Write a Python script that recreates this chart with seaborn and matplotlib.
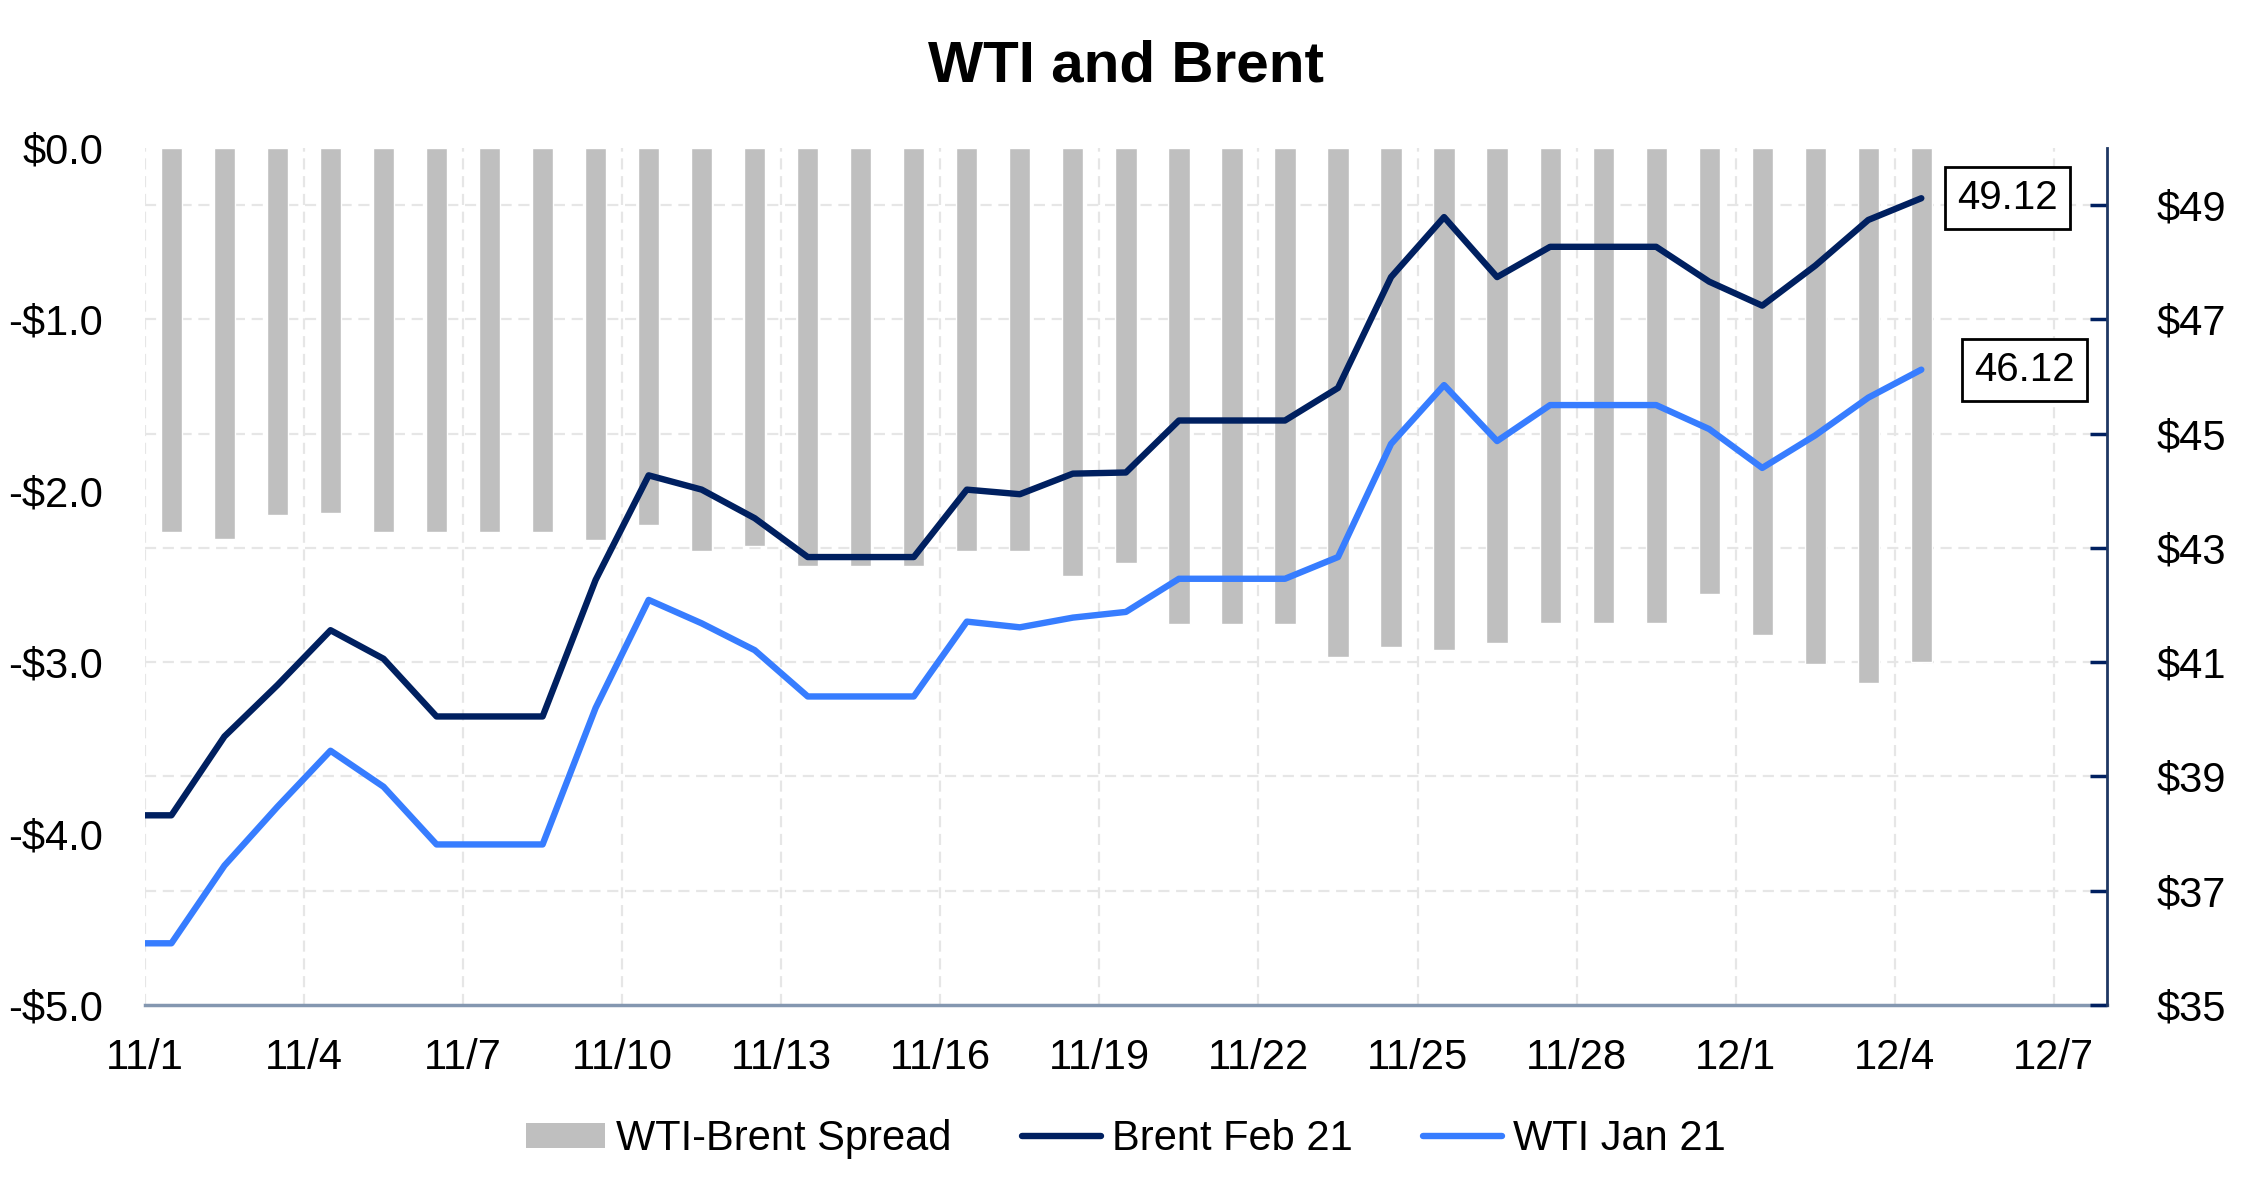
import pandas as pd
import numpy as np
import matplotlib
matplotlib.use("Agg")
import matplotlib.pyplot as plt
import matplotlib.dates as mdates
from matplotlib.patches import Patch
from matplotlib.lines import Line2D
import seaborn as sns

# --- data (weekends carried forward) ---
dates = pd.date_range("2020-10-31", "2020-12-04", freq="D")

brent_feb21 = [38.32, 38.32, 39.70, 40.60, 41.56, 41.06, 40.05, 40.05, 40.05,
               42.44, 44.27, 44.02, 43.52, 42.84, 42.84, 42.84, 44.02, 43.94,
               44.30, 44.32, 45.23, 45.23, 45.23, 45.80, 47.74, 48.79, 47.74,
               48.27, 48.27, 48.27, 47.66, 47.24, 47.94, 48.74, 49.12]

wti_jan21 = [36.08, 36.08, 37.44, 38.47, 39.45, 38.82, 37.81, 37.81, 37.81,
             40.20, 42.09, 41.68, 41.21, 40.40, 40.40, 40.40, 41.71, 41.61,
             41.78, 41.88, 42.46, 42.46, 42.46, 42.84, 44.82, 45.85, 44.87,
             45.50, 45.50, 45.50, 45.08, 44.40, 44.97, 45.63, 46.12]

spread = [-2.24, -2.24, -2.28, -2.14, -2.13, -2.24, -2.24, -2.24, -2.24,
          -2.29, -2.20, -2.35, -2.32, -2.44, -2.44, -2.44, -2.35, -2.35,
          -2.50, -2.42, -2.78, -2.78, -2.78, -2.97, -2.91, -2.93, -2.89,
          -2.77, -2.77, -2.77, -2.60, -2.84, -3.01, -3.12, -3.00]

series_labels = ["WTI-Brent Spread", "Brent Feb 21", "WTI Jan 21"]
left_ticks = [0.0, -1.0, -2.0, -3.0, -4.0, -5.0]
right_ticks = [35, 37, 39, 41, 43, 45, 47, 49]
x_ticks = pd.date_range("2020-11-01", "2020-12-07", freq="3D")

BAR_C = "#bfbfbf"
BRENT_C = "#002060"
WTI_C = "#377dff"
GRID_C = "#e6e6e6"

sns.set_style("white")
plt.rcParams["font.family"] = ["Liberation Sans", "DejaVu Sans"]
plt.rcParams["text.color"] = "black"

df = pd.DataFrame({"date": dates, "brent": brent_feb21, "wti": wti_jan21, "spread": spread})
# points sit in the middle of each day, like the excel date axis
df["xpos"] = df["date"] + pd.Timedelta(hours=12)

fig = plt.figure(figsize=(22.5, 12), dpi=100)
ax = fig.add_axes([0.0644, 0.1625, 0.872, 0.7142])
ax2 = ax.twinx()

# spread bars on the left axis
ax.bar(df["xpos"], df["spread"], width=0.4, color=BAR_C, zorder=2)
ax.set_ylim(-5, 0)
ax.set_xlim(pd.Timestamp("2020-11-01"), pd.Timestamp("2020-12-08"))

# prices on the right axis
sns.lineplot(data=df, x="xpos", y="brent", ax=ax2, color=BRENT_C, linewidth=4.6,
             estimator=None, sort=False, legend=False)
sns.lineplot(data=df, x="xpos", y="wti", ax=ax2, color=WTI_C, linewidth=4.6,
             estimator=None, sort=False, legend=False)
ax2.set_ylim(35, 50)
ax2.set_xlim(pd.Timestamp("2020-11-01"), pd.Timestamp("2020-12-08"))

# horizontal grid follows the right axis ticks, drawn on the bar axis so bars cover it
lo, hi = ax2.get_ylim()
grid_y = [(t - lo) / (hi - lo) * 5 - 5 for t in right_ticks[1:]]
for gy in grid_y:
    ax.axhline(gy, color=GRID_C, lw=1.6, ls=(0, (5, 3)), zorder=0)
for xt in x_ticks:
    ax.axvline(xt, color=GRID_C, lw=1.6, ls=(0, (5, 3)), zorder=0)

# left axis
ax.set_yticks(left_ticks)
ax.set_yticklabels(["$0.0" if v == 0 else f"-${abs(v):.1f}" for v in left_ticks])
ax.tick_params(axis="y", length=0, pad=30, labelsize=30, labelcolor="black")

# bottom axis
ax.set_xticks(x_ticks)
ax.xaxis.set_major_formatter(mdates.DateFormatter("%-m/%-d"))
ax.tick_params(axis="x", direction="out", length=9, width=2, color="#8497b0",
               pad=15, labelsize=30, labelcolor="black")
ax.set_xlabel("")
ax.set_ylabel("")

# right axis
ax2.set_yticks(right_ticks)
ax2.set_yticklabels([f"${t}" for t in right_ticks])
ax2.tick_params(axis="y", direction="in", length=12, width=2.5, color=BRENT_C,
                pad=36, labelsize=30, labelcolor="black")
ax2.set_xlabel("")
ax2.set_ylabel("")

for a in (ax, ax2):
    for s in ("top", "left", "right", "bottom"):
        a.spines[s].set_visible(False)
ax.spines["bottom"].set_visible(True)
ax.spines["bottom"].set_color("#8497b0")
ax.spines["bottom"].set_linewidth(2.5)
ax2.spines["right"].set_visible(True)
ax2.spines["right"].set_color("#1f3864")
ax2.spines["right"].set_linewidth(2)

# end value boxes
last_x = df["xpos"].iloc[-1]
box = dict(boxstyle="square,pad=0.3", fc="white", ec="black", lw=2)
ax2.annotate(f"{brent_feb21[-1]:.2f}", (last_x, brent_feb21[-1]), xytext=(26, 0),
             textcoords="offset points", ha="left", va="center", fontsize=29, bbox=box,
             annotation_clip=False, color="black")
ax2.annotate(f"{wti_jan21[-1]:.2f}", (last_x, wti_jan21[-1]), xytext=(38, 0),
             textcoords="offset points", ha="left", va="center", fontsize=29, bbox=box,
             annotation_clip=False, color="black")

fig.text(0.5004, 1 - 67 / 1200, "WTI and Brent", ha="center", va="center",
         fontsize=42, fontweight="bold", color="black")

handles = [Patch(facecolor=BAR_C, edgecolor="none"),
           Line2D([0], [0], color=BRENT_C, lw=4.6),
           Line2D([0], [0], color=WTI_C, lw=4.6)]
fig.legend(handles, series_labels, loc="center", bbox_to_anchor=(0.5004, 0.051),
           ncol=3, frameon=False, fontsize=30, handlelength=1.9, handleheight=0.55,
           handletextpad=0.25, columnspacing=1.7, labelcolor="black")

fig.savefig("out.png", dpi=100)
plt.close(fig)
